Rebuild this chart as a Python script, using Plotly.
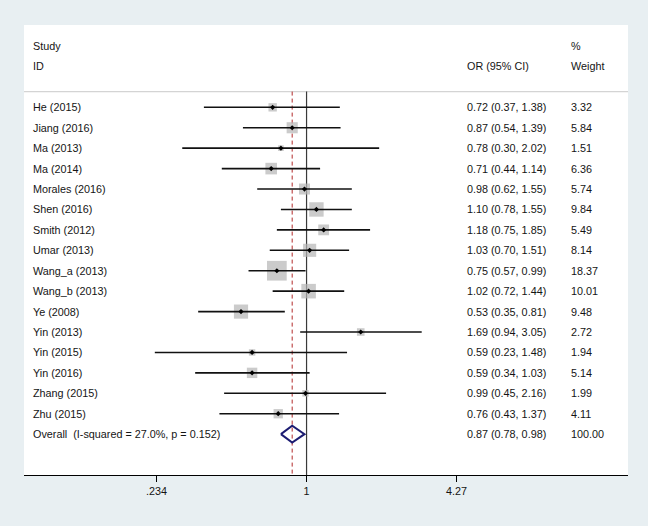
import plotly.graph_objects as go

studies = ["He (2015)", "Jiang (2016)", "Ma (2013)", "Ma (2014)", "Morales (2016)",
           "Shen (2016)", "Smith (2012)", "Umar (2013)", "Wang_a (2013)", "Wang_b (2013)",
           "Ye (2008)", "Yin (2013)", "Yin (2015)", "Yin (2016)", "Zhang (2015)", "Zhu (2015)"]
or_est = [0.72, 0.87, 0.78, 0.71, 0.98, 1.10, 1.18, 1.03, 0.75, 1.02, 0.53, 1.69, 0.59, 0.59, 0.99, 0.76]
or_low = [0.37, 0.54, 0.30, 0.44, 0.62, 0.78, 0.75, 0.70, 0.57, 0.72, 0.35, 0.94, 0.23, 0.34, 0.45, 0.43]
or_high = [1.38, 1.39, 2.02, 1.14, 1.55, 1.55, 1.85, 1.51, 0.99, 1.44, 0.81, 3.05, 1.48, 1.03, 2.16, 1.37]
weights = [3.32, 5.84, 1.51, 6.36, 5.74, 9.84, 5.49, 8.14, 18.37, 10.01, 9.48, 2.72, 1.94, 5.14, 1.99, 4.11]

overall_label = "Overall\u00a0 (I-squared = 27.0%, p = 0.152)"
overall_est, overall_low, overall_high, overall_weight = 0.87, 0.78, 0.98, 100.00

tick_vals = [0.234, 1, 4.27]
tick_text = [".234", "1", "4.27"]

FONT = "Liberation Sans, Arial, sans-serif"
FS = 10.8
TXT = "#141414"

rows = list(range(len(studies)))
overall_row = len(studies)

fig = go.Figure()

# boxes (area ~ weight)
fig.add_trace(go.Scatter(
    x=or_est, y=rows, mode="markers",
    marker=dict(symbol="square", size=[4.6 * w ** 0.5 for w in weights],
                color="#b5b5b5", line=dict(width=0)),
    hoverinfo="skip", showlegend=False))

# CI lines
cx, cy = [], []
for lo, hi, r in zip(or_low, or_high, rows):
    cx += [lo, hi, None]
    cy += [r, r, None]
fig.add_trace(go.Scatter(x=cx, y=cy, mode="lines",
                         line=dict(color="#111111", width=1.6),
                         hoverinfo="skip", showlegend=False))

# point estimates
fig.add_trace(go.Scatter(x=or_est, y=rows, mode="markers",
                         marker=dict(symbol="diamond", size=4, color="#000000"),
                         hoverinfo="skip", showlegend=False))

# overall diamond
dh = 0.41
fig.add_trace(go.Scatter(
    x=[overall_low, overall_est, overall_high, overall_est, overall_low],
    y=[overall_row, overall_row - dh, overall_row, overall_row + dh, overall_row],
    mode="lines", line=dict(color="#1c1c72", width=2),
    hoverinfo="skip", showlegend=False))

sep_row = -0.77
y_bottom = 18.0
y_top = -4.03

shapes = [
    dict(type="line", xref="paper", yref="y", x0=0, x1=1, y0=sep_row, y1=sep_row,
         line=dict(color="#d4d4d4", width=1.2), layer="below"),
    dict(type="line", xref="x", yref="y", x0=1, x1=1, y0=sep_row, y1=y_bottom,
         line=dict(color="#3a3a3a", width=1.2), layer="below"),
    dict(type="line", xref="x", yref="y", x0=overall_est, x1=overall_est, y0=sep_row, y1=y_bottom,
         line=dict(color="#b22a2a", width=1, dash="4px,3px"), layer="below"),
]

annotations = []
def txt(x, y, s):
    annotations.append(dict(xref="paper", yref="y", x=x, y=y, text=s, showarrow=False,
                            xanchor="left", yanchor="middle", xshift=-1,
                            font=dict(family=FONT, size=FS, color=TXT)))

x_name, x_or, x_w = 0.0127, 0.7314, 0.9047
txt(x_name, -3, "Study")
txt(x_name, -2, "ID")
txt(x_or, -2, "OR (95% CI)")
txt(x_w, -3, "%")
txt(x_w, -2, "Weight")
for s, e, lo, hi, w, r in zip(studies, or_est, or_low, or_high, weights, rows):
    txt(x_name, r, s)
    txt(x_or, r, f"{e:.2f} ({lo:.2f}, {hi:.2f})")
    txt(x_w, r, f"{w:.2f}")
txt(x_name, overall_row, overall_label)
txt(x_or, overall_row, f"{overall_est:.2f} ({overall_low:.2f}, {overall_high:.2f})")
txt(x_w, overall_row, f"{overall_weight:.2f}")

fig.update_layout(
    width=648, height=526,
    margin=dict(l=24, r=20, t=25, b=51),
    paper_bgcolor="#e8eff2", plot_bgcolor="#ffffff",
    shapes=shapes, annotations=annotations,
    xaxis=dict(type="log", range=[-1.1885, 1.352], showgrid=False, zeroline=False,
               showline=True, linecolor="#000000", linewidth=1,
               ticks="outside", ticklen=6, tickcolor="#000000", tickwidth=1,
               tickvals=tick_vals, ticktext=tick_text,
               tickfont=dict(family=FONT, size=FS, color=TXT)),
    yaxis=dict(range=[y_bottom, y_top], showgrid=False, zeroline=False,
               showline=False, showticklabels=False, ticks=""),
)

fig.write_html("out.html", config={"displayModeBar": False},
               post_script="document.body.style.margin='0';document.body.style.overflow='hidden';")
